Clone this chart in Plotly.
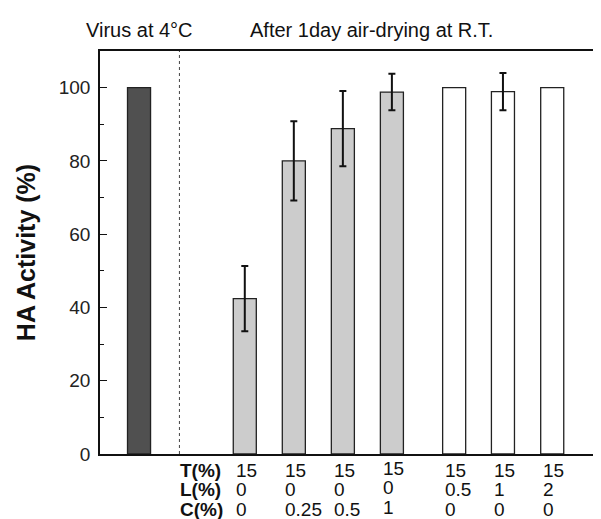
import plotly.graph_objects as go

# ---- data ----
values = [100, 42.4, 80.0, 88.8, 98.8, 100, 98.9, 100]
errors = [None, 8.9, 10.8, 10.25, 5.0, None, 5.1, None]
T_pct = ["15", "15", "15", "15", "15", "15", "15"]
L_pct = ["0", "0", "0", "0", "0.5", "1", "2"]
C_pct = ["0", "0.25", "0.5", "1", "0", "0", "0"]
y_ticks = [0, 20, 40, 60, 80, 100]

# ---- layout positions / styles ----
x_pos = [-1.157, 1, 2, 3, 4, 5.27, 6.265, 7.27]
bar_w = 0.47
colors = ["#505050", "#cccccc", "#cccccc", "#cccccc", "#cccccc", "#ffffff", "#ffffff", "#ffffff"]
FONT = "Arial, Liberation Sans, sans-serif"

fig = go.Figure()
fig.add_trace(go.Bar(
    x=x_pos, y=values, width=bar_w,
    marker=dict(color=colors, line=dict(color="#222222", width=1.3)),
    showlegend=False, hoverinfo="skip",
))

# error bars only where the reference shows them
idx = [i for i, e in enumerate(errors) if e is not None]
fig.add_trace(go.Scatter(
    x=[x_pos[i] for i in idx], y=[values[i] for i in idx], mode="markers",
    marker=dict(size=1, color="rgba(0,0,0,0)"),
    error_y=dict(type="data", array=[errors[i] for i in idx], visible=True,
                 color="#111111", thickness=2, width=3.5),
    showlegend=False, hoverinfo="skip",
))

# dotted separator
fig.add_shape(type="line", xref="x", yref="paper", x0=-0.333, x1=-0.333, y0=0, y1=1,
              line=dict(color="#444444", width=1, dash="dot"))

ann = []
ann.append(dict(text="Virus at 4°C", x=x_pos[0], xref="x", y=1, yref="paper",
                yshift=21, xanchor="center", yanchor="middle", showarrow=False,
                font=dict(family=FONT, size=20, color="#111111")))
ann.append(dict(text="After 1day air-drying at R.T.", x=1.06, xref="x", y=1, yref="paper",
                yshift=21, xanchor="left", yanchor="middle", showarrow=False,
                font=dict(family=FONT, size=20, color="#111111")))

row_shift = [-16.5, -35.5, -55]
row_names = ["T(%)", "L(%)", "C(%)"]
rows = [T_pct, L_pct, C_pct]
for r in range(3):
    ann.append(dict(text="<b>%s</b>" % row_names[r], x=-0.333, xref="x", y=0, yref="paper",
                    yshift=row_shift[r], xanchor="left", yanchor="middle", showarrow=False,
                    borderpad=0,
                    font=dict(family=FONT, size=19, color="#111111")))
    for i, lab in enumerate(rows[r]):
        xp = x_pos[i + 1] - bar_w / 2 + 0.03
        extra = 2 if i == 3 else 0
        ann.append(dict(text=lab, x=xp, xref="x", y=0, yref="paper",
                        yshift=row_shift[r] + extra, xanchor="left", yanchor="middle",
                        showarrow=False, borderpad=0,
                        font=dict(family=FONT, size=19, color="#111111")))

fig.update_layout(
    width=601, height=519,
    margin=dict(l=92, r=15, t=43, b=73),
    paper_bgcolor="white", plot_bgcolor="white",
    annotations=ann,
    xaxis=dict(range=[-1.953, 8.122], showticklabels=False, ticks="", showgrid=False,
               zeroline=False, showline=True, linecolor="#111111", linewidth=1.5, mirror=True),
    yaxis=dict(range=[0, 110], tickvals=y_ticks, ticks="inside", ticklen=7, tickwidth=1.3,
               tickcolor="#111111", showgrid=False, zeroline=False, showline=True,
               linecolor="#111111", linewidth=1.5, mirror=True,
               tickfont=dict(family=FONT, size=19, color="#222222"),
               ticklabelstandoff=4,
               minor=dict(tickvals=[10, 30, 50, 70, 90], ticks="inside", ticklen=4,
                          tickwidth=1.2, tickcolor="#111111"),
               title=dict(text="<b>HA Activity (%)</b>", standoff=16,
                          font=dict(family=FONT, size=25, color="#111111"))),
)

fig.write_html("out.html")
